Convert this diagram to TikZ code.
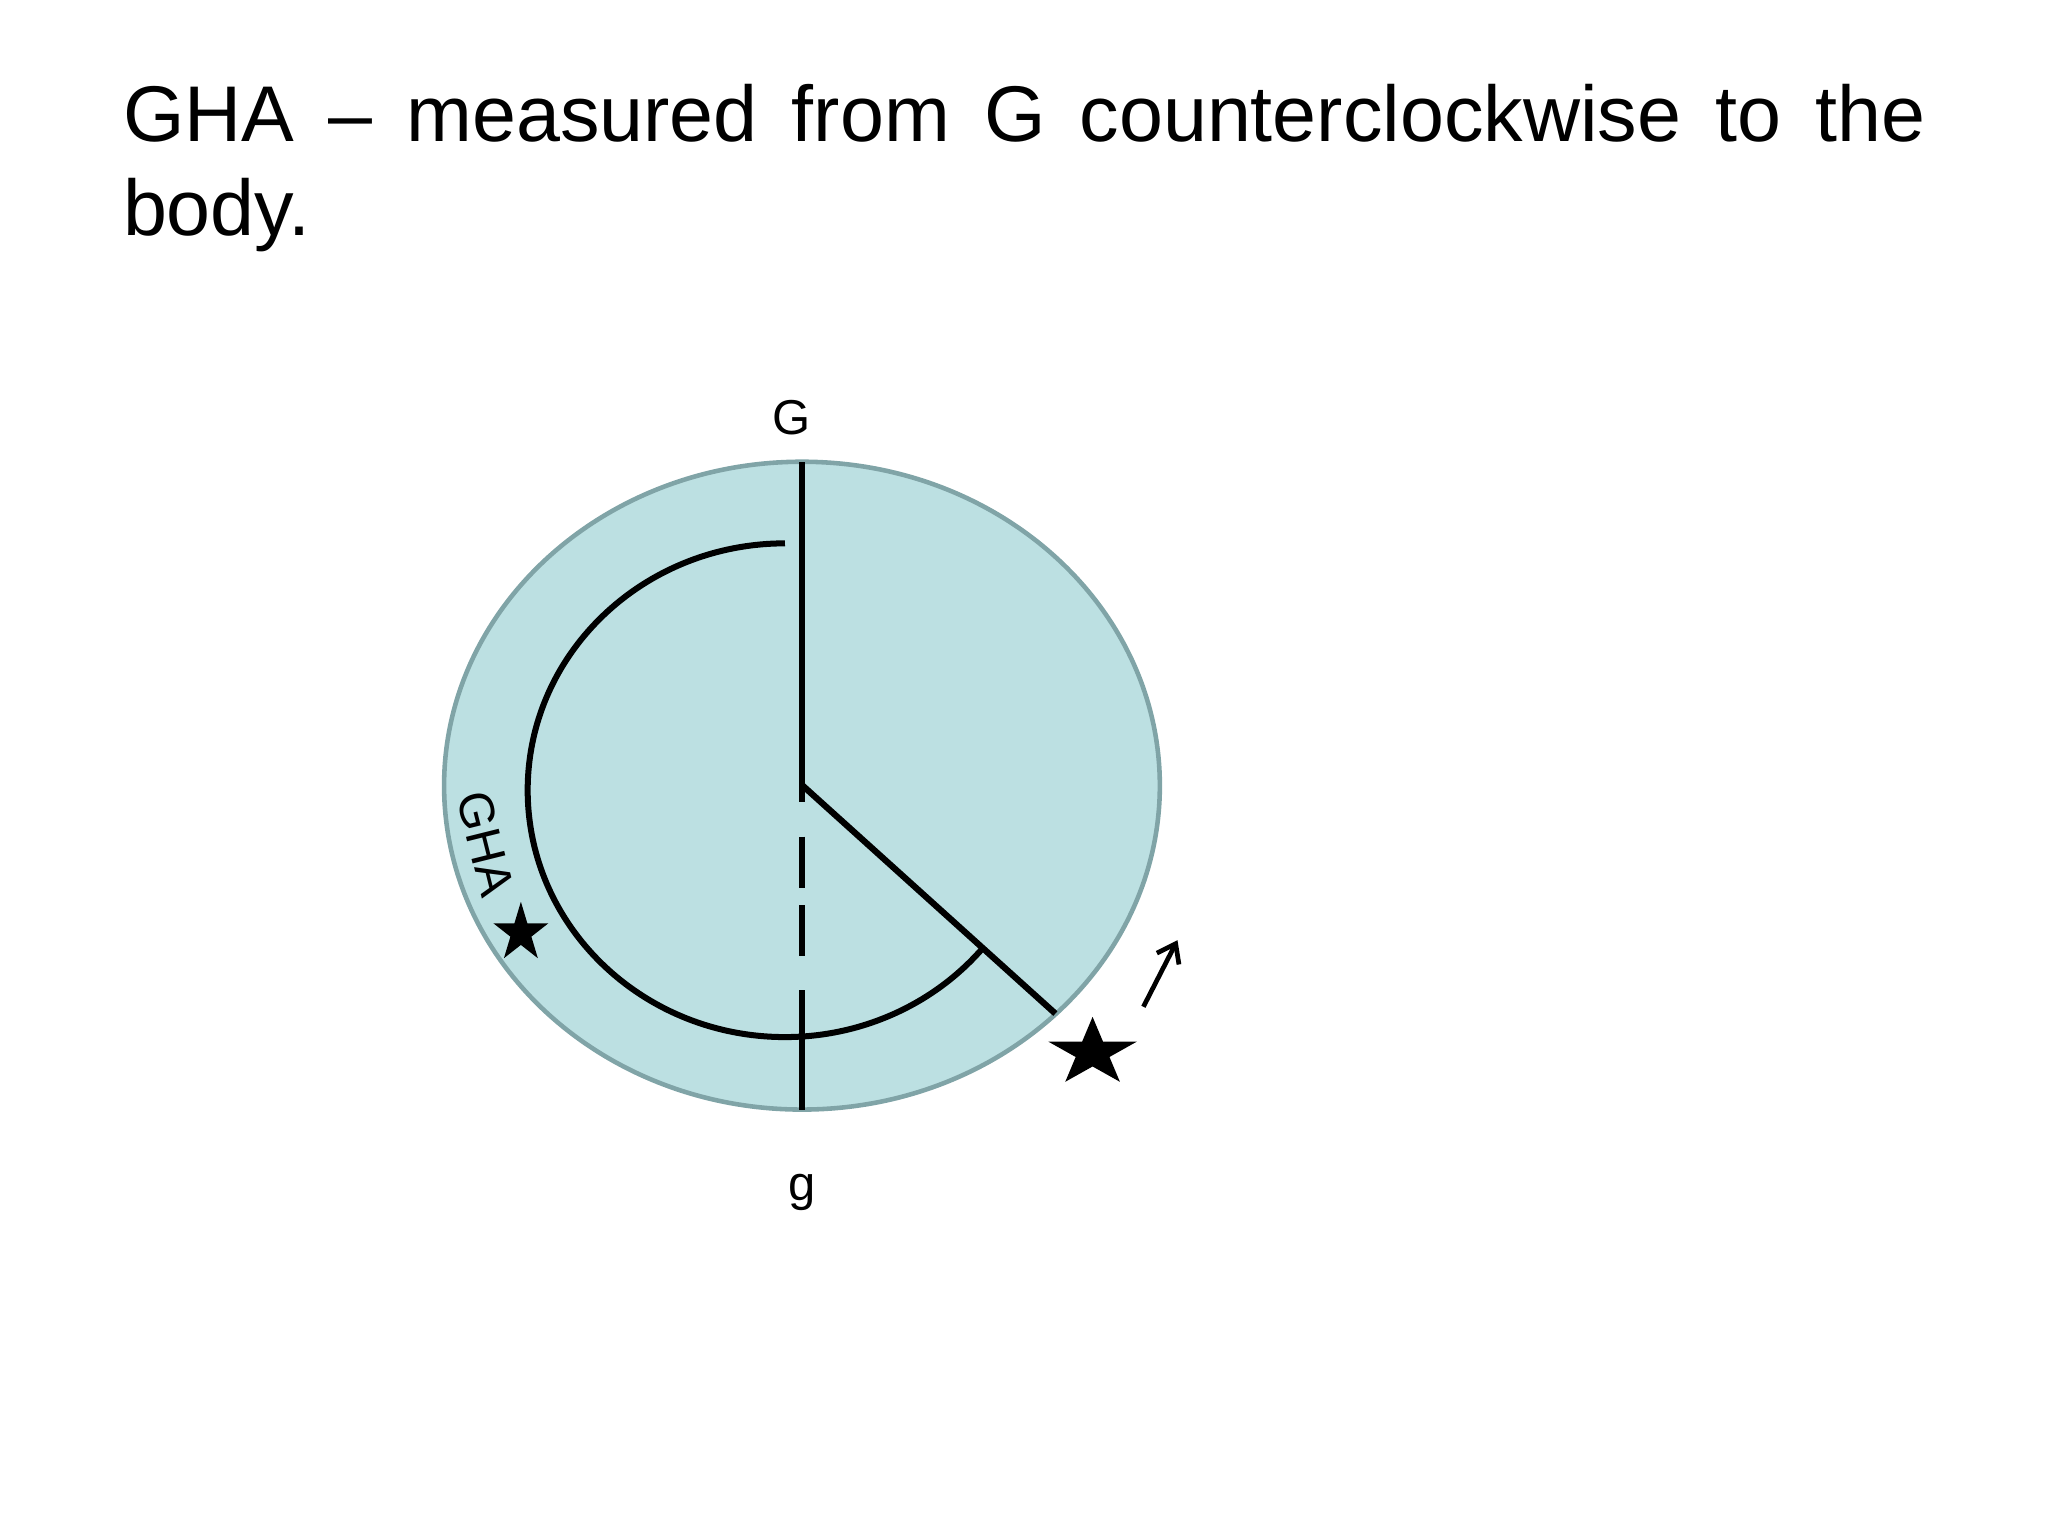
\documentclass[tikz,border=0pt]{standalone}
\usepackage{fontspec}
\setmainfont{Liberation Sans}
\usetikzlibrary{arrows.meta}
\definecolor{discfill}{RGB}{188,224,226}
\definecolor{discedge}{RGB}{128,164,167}
\begin{document}
\begin{tikzpicture}[x=1pt,y=1pt,
  ink/.style={line width=4.8pt, black},
  lbl/.style={font=\fontsize{37.5}{40}\selectfont, inner sep=0pt},
  titletext/.style={font=\fontsize{60.5}{72}\selectfont, inner sep=0pt, anchor=base west},
  starfill/.style={fill=black},
]
\useasboundingbox (0,0) rectangle (1568,-1176);
% title
\node[titletext] (title1) at (94,-108) {\makebox[1380pt][s]{GHA – measured from G counterclockwise to the}};
\node[titletext] (title2) at (94,-180) {body.};
% disc
\coordinate (O) at (614,-601);
\coordinate (Gtop) at (614,-354);
\coordinate (gbot) at (614,-850);
\coordinate (S) at (808,-776);
\draw[fill=discfill, draw=discedge, line width=3.5pt] (614,-601.5) ellipse [x radius=274, y radius=248];
% meridian upper
\draw[ink] (Gtop) -- (O);
% lower branch: dashed then solid
\coordinate (d1a) at (614,-613.8);
\coordinate (d2a) at (614,-640.6);
\coordinate (d2b) at (614,-679.7);
\coordinate (d3a) at (614,-693);
\coordinate (d3b) at (614,-731.8);
\coordinate (d4a) at (614,-758);
\draw[ink] (O) -- (d1a);
\draw[ink] (d2a) -- (d2b);
\draw[ink] (d3a) -- (d3b);
\draw[ink] (d4a) -- (gbot);
% hour circle of body
\draw[ink] (O) -- (S);
% GHA arc
\coordinate (arcstart) at (601,-416);
\draw[ink, line width=4.6pt] (arcstart) arc[start angle=90, end angle=320.5, x radius=197, y radius=189];
% labels
\node[lbl, anchor=base] (Glbl) at (606,-333) {G};
\node[lbl, anchor=base] (glbl) at (614,-919) {g};
\node[lbl, rotate=-76] (ghalbl) at (372,-646) {GHA};
% small star
\coordinate (star1) at (398.8,-714.3);
\begin{scope}[shift={(star1)}, xscale=22.1, yscale=23.9]
\fill[starfill] (90:1) -- (126:0.382) -- (162:1) -- (198:0.382) -- (234:1) -- (270:0.382) -- (306:1) -- (342:0.382) -- (18:1) -- (54:0.382) -- cycle;
\end{scope}
% big star
\coordinate (star2) at (836.5,-806);
\begin{scope}[shift={(star2)}, xscale=35.6, yscale=27.5]
\fill[starfill] (90:1) -- (126:0.382) -- (162:1) -- (198:0.382) -- (234:1) -- (270:0.382) -- (306:1) -- (342:0.382) -- (18:1) -- (54:0.382) -- cycle;
\end{scope}
% motion arrow
\coordinate (atail) at (875.4,-770.8);
\coordinate (ahead) at (901.5,-719.8);
\draw[line width=3.6pt, -{Straight Barb[length=13pt,width=19pt]}] (atail) -- (ahead);
\end{tikzpicture}
\end{document}
